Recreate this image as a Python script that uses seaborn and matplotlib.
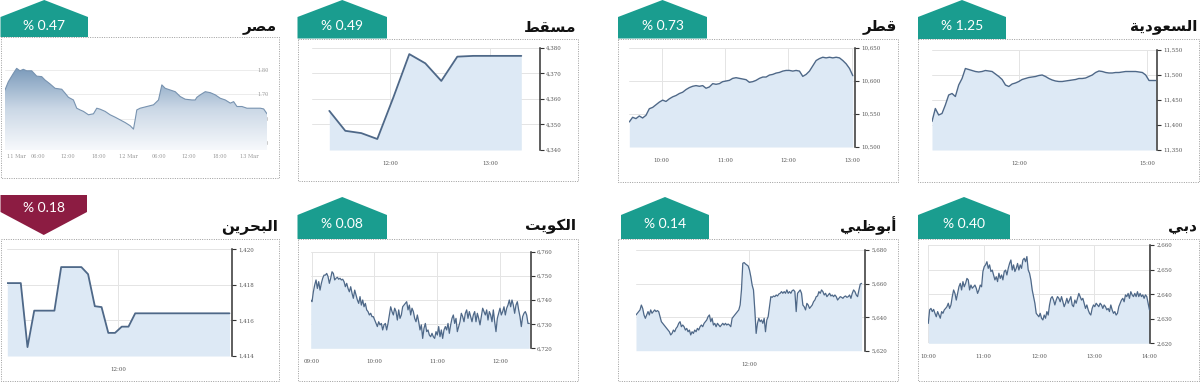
import numpy as np
import pandas as pd
import matplotlib
matplotlib.use("Agg")
import matplotlib.pyplot as plt
import seaborn as sns
from matplotlib.patches import Polygon, Rectangle
from matplotlib.ticker import FuncFormatter
from matplotlib.colors import LinearSegmentedColormap

# ----------------------------- data -----------------------------
markets = ["مصر", "مسقط", "قطر", "السعودية", "البحرين", "الكويت", "أبوظبي", "دبي"]
changes = ["% 0.47", "% 0.49", "% 0.73", "% 1.25", "% 0.18", "% 0.08", "% 0.14", "% 0.40"]
directions = ["up", "up", "up", "up", "down", "up", "up", "up"]

egypt_hours = [-0.46, 0.2, 1.19, 1.85, 2.51, 3.17, 3.83, 4.83, 5.82, 6.81, 7.47, 8.46, 9.45,
               10.78, 11.44, 12.10, 13.09, 13.75, 14.41, 15.07, 16.07, 17.06, 17.72, 18.38,
               19.37, 20.36, 21.36, 22.35, 23.34, 24.33, 24.99, 25.32, 25.65, 26.31, 27.64,
               28.96, 29.95, 30.61, 31.27, 32.26, 33.26, 34.25, 35.24, 36.56, 37.22, 37.55,
               38.21, 39.21, 40.20, 41.19, 42.18, 43.17, 44.17, 44.83, 45.49, 46.48, 47.47,
               48.79, 50.12, 50.78, 51.44]
egypt_values = [1.718, 1.752, 1.786, 1.807, 1.797, 1.803, 1.797, 1.797, 1.775, 1.773, 1.759,
                1.743, 1.725, 1.721, 1.705, 1.688, 1.677, 1.643, 1.636, 1.630, 1.616, 1.620,
                1.643, 1.639, 1.630, 1.616, 1.606, 1.595, 1.584, 1.571, 1.557, 1.595, 1.636,
                1.643, 1.650, 1.657, 1.677, 1.739, 1.725, 1.718, 1.711, 1.691, 1.680, 1.677,
                1.677, 1.688, 1.698, 1.711, 1.707, 1.698, 1.684, 1.677, 1.664, 1.670, 1.650,
                1.650, 1.643, 1.643, 1.643, 1.640, 1.620]
egypt_yticks = [1.50, 1.60, 1.70, 1.80]
egypt_ylabels = ["1.50", "1.60", "1.70", "1.80"]
egypt_xticks = [0, 6, 12, 18, 24, 30, 36, 42, 48]
egypt_xlabels = ["11 Mar", "06:00", "12:00", "18:00", "12 Mar", "06:00", "12:00", "18:00", "13 Mar"]

muscat_time = (11.393, 13.313)
muscat_values = [4355.3, 4347.5, 4346.6, 4344.3, 4360.5, 4377.5, 4373.9, 4367.0,
                 4376.5, 4376.8, 4376.8, 4376.8, 4376.8]
muscat_yticks = [4340, 4350, 4360, 4370, 4380]
muscat_xticks = [12, 13]
muscat_xlabels = ["12:00", "13:00"]

qatar_time = (9.489, 13.016)
qatar_values = [10538, 10545, 10543, 10547, 10544, 10548, 10558, 10560, 10564, 10568,
                10571, 10569, 10573, 10576, 10578, 10581, 10583, 10587, 10590, 10592,
                10593, 10592, 10593, 10589, 10591, 10596, 10595, 10596, 10599, 10600,
                10601, 10604, 10605, 10604, 10603, 10602, 10598, 10599, 10601, 10604,
                10606, 10606, 10609, 10610, 10612, 10613, 10615, 10616, 10616, 10615,
                10616, 10615, 10607, 10610, 10615, 10623, 10631, 10634, 10636, 10635,
                10636, 10635, 10636, 10635, 10631, 10626, 10619, 10608]
qatar_yticks = [10500, 10550, 10600, 10650]
qatar_xticks = [10, 11, 12, 13]
qatar_xlabels = ["10:00", "11:00", "12:00", "13:00"]

saudi_time = (9.97, 15.20)
saudi_values = [11407, 11433, 11420, 11423, 11440, 11460, 11463, 11457, 11480, 11493,
                11513, 11511, 11509, 11507, 11506, 11507, 11509, 11508, 11507, 11502,
                11497, 11491, 11480, 11477, 11482, 11484, 11487, 11491, 11493, 11495,
                11496, 11497, 11499, 11500, 11497, 11493, 11490, 11488, 11487, 11487,
                11488, 11489, 11490, 11491, 11493, 11493, 11494, 11497, 11500, 11505,
                11508, 11507, 11505, 11504, 11504, 11505, 11505, 11506, 11507, 11507,
                11507, 11507, 11506, 11505, 11500, 11489, 11489, 11489]
saudi_yticks = [11350, 11400, 11450, 11500, 11550]
saudi_xticks = [12, 15]
saudi_xlabels = ["12:00", "15:00"]

bahrain_time = (10.0, 14.0)
bahrain_values = [1418.1, 1418.1, 1418.1, 1414.5, 1416.55, 1416.55, 1416.55, 1416.55,
                  1419.0, 1419.0, 1419.0, 1419.0, 1418.6, 1416.8, 1416.75, 1415.3, 1415.3,
                  1415.65, 1415.65, 1416.4, 1416.4, 1416.4, 1416.4, 1416.4, 1416.4, 1416.4,
                  1416.4, 1416.4, 1416.4, 1416.4, 1416.4, 1416.4, 1416.4, 1416.4]
bahrain_yticks = [1414, 1416, 1418, 1420]
bahrain_xticks = [12]
bahrain_xlabels = ["12:00"]

kuwait_time = (8.984, 12.468)
kuwait_values = [6740.0, 6739.3, 6743.4, 6746.2, 6748.3, 6744.8, 6747.6, 6744.1, 6746.9, 6749.0,
                 6750.3, 6750.3, 6751.0, 6749.7, 6746.9, 6749.0, 6751.7, 6751.0, 6748.3, 6749.0,
                 6749.4, 6748.6, 6749.0, 6748.3, 6748.6, 6747.6, 6745.5, 6746.9, 6744.8, 6743.4,
                 6745.5, 6742.8, 6740.7, 6744.1, 6742.1, 6740.0, 6738.6, 6741.4, 6737.9, 6740.0,
                 6737.2, 6738.6, 6735.9, 6735.2, 6733.8, 6734.5, 6733.1, 6733.1, 6731.7, 6730.3,
                 6729.0, 6731.0, 6729.7, 6730.3, 6727.6, 6729.7, 6730.3, 6727.6, 6730.3, 6733.8,
                 6737.2, 6735.2, 6733.8, 6736.6, 6735.2, 6731.7, 6735.9, 6732.4, 6733.8, 6737.2,
                 6737.9, 6738.6, 6739.3, 6735.9, 6737.9, 6733.8, 6736.6, 6735.2, 6732.4, 6731.0,
                 6733.8, 6731.0, 6727.6, 6729.7, 6724.1, 6728.3, 6730.3, 6726.9, 6727.6, 6725.5,
                 6724.8, 6726.2, 6724.8, 6724.1, 6726.9, 6725.5, 6729.0, 6724.8, 6727.6, 6724.1,
                 6727.6, 6729.0, 6727.6, 6730.3, 6726.2, 6729.7, 6732.4, 6733.8, 6730.3, 6732.4,
                 6726.9, 6729.0, 6731.0, 6734.5, 6733.1, 6731.0, 6734.5, 6735.9, 6732.4, 6735.2,
                 6733.1, 6731.0, 6733.8, 6735.2, 6731.0, 6734.5, 6732.4, 6729.7, 6733.1, 6736.6,
                 6735.2, 6733.8, 6735.9, 6731.7, 6735.2, 6733.8, 6731.0, 6735.9, 6731.0, 6726.9,
                 6732.4, 6734.5, 6736.6, 6733.8, 6735.2, 6737.2, 6733.8, 6736.6, 6737.9, 6740.0,
                 6737.2, 6740.0, 6737.9, 6734.5, 6737.9, 6739.3, 6735.9, 6733.1, 6729.0, 6733.1,
                 6734.5, 6735.2, 6733.8, 6730.3, 6730.3]
kuwait_yticks = [6720, 6730, 6740, 6750, 6760]
kuwait_xticks = [9, 10, 11, 12]
kuwait_xlabels = ["09:00", "10:00", "11:00", "12:00"]

abudhabi_time = (10.0, 14.0)
abudhabi_values = [5641.3, 5642.3, 5643.3, 5644.3, 5647.2, 5645.2, 5641.3, 5639.3, 5641.3, 5643.3,
                   5641.3, 5644.3, 5642.3, 5643.3, 5644.3, 5643.3, 5643.9, 5643.3, 5640.3, 5637.3,
                   5636.3, 5635.3, 5634.3, 5633.3, 5632.3, 5631.3, 5629.4, 5630.3, 5632.3, 5631.3,
                   5633.3, 5634.3, 5636.3, 5637.3, 5634.3, 5635.3, 5634.3, 5632.3, 5633.3, 5631.3,
                   5632.3, 5629.4, 5631.3, 5630.3, 5632.3, 5631.3, 5633.3, 5632.3, 5634.3, 5635.3,
                   5634.3, 5636.3, 5637.3, 5638.3, 5640.3, 5641.3, 5637.3, 5639.3, 5635.3, 5636.3,
                   5634.3, 5636.3, 5635.3, 5634.3, 5635.3, 5636.3, 5635.3, 5636.3, 5635.3, 5635.9,
                   5635.3, 5634.3, 5639.3, 5640.3, 5641.3, 5642.3, 5643.3, 5644.3, 5647.2, 5656.2,
                   5672.1, 5672.5, 5671.7, 5671.1, 5670.5, 5668.1, 5664.1, 5659.1, 5656.2, 5644.3,
                   5630.3, 5636.3, 5639.3, 5637.3, 5638.3, 5636.3, 5639.3, 5631.3, 5638.3, 5640.3,
                   5646.2, 5652.2, 5651.8, 5652.6, 5652.2, 5653.2, 5652.6, 5653.8, 5654.2, 5655.2,
                   5654.2, 5655.2, 5654.2, 5656.2, 5654.2, 5655.2, 5654.2, 5655.8, 5656.2, 5655.2,
                   5643.3, 5654.2, 5655.2, 5656.2, 5654.2, 5647.2, 5646.2, 5644.3, 5648.2, 5647.2,
                   5645.2, 5646.2, 5647.2, 5649.2, 5650.2, 5652.2, 5652.6, 5655.2, 5654.2, 5656.2,
                   5655.2, 5653.2, 5654.2, 5652.2, 5653.2, 5654.2, 5652.6, 5653.2, 5652.2, 5653.2,
                   5652.2, 5650.2, 5651.2, 5652.2, 5651.8, 5651.2, 5652.2, 5652.6, 5651.8, 5652.2,
                   5653.2, 5651.2, 5654.2, 5656.2, 5655.2, 5653.2, 5652.2, 5656.2, 5659.7, 5660.1]
abudhabi_yticks = [5620, 5640, 5660, 5680]
abudhabi_xticks = [12]
abudhabi_xlabels = ["12:00"]

dubai_time = (10.0, 14.0)
dubai_values = [2628.1, 2633.6, 2634.2, 2632.9, 2633.8, 2632.2, 2630.8, 2632.9, 2631.5, 2630.2,
                2632.9, 2632.2, 2633.6, 2634.2, 2634.9, 2636.3, 2634.2, 2635.6, 2639.0, 2641.7,
                2640.3, 2637.6, 2640.3, 2643.0, 2644.4, 2641.7, 2645.1, 2643.0, 2644.4, 2646.4,
                2645.8, 2641.7, 2643.7, 2642.4, 2643.0, 2643.7, 2642.4, 2640.3, 2641.7, 2643.7,
                2643.0, 2649.2, 2651.2, 2651.9, 2653.2, 2650.5, 2651.9, 2649.2, 2649.8, 2647.8,
                2645.8, 2647.1, 2645.1, 2648.5, 2646.4, 2647.8, 2645.8, 2649.2, 2649.8, 2647.8,
                2650.5, 2652.5, 2653.9, 2649.8, 2651.9, 2649.2, 2650.5, 2652.5, 2649.8, 2651.9,
                2650.5, 2653.9, 2654.6, 2653.2, 2655.3, 2649.8, 2648.5, 2645.8, 2641.7, 2639.0,
                2636.3, 2632.2, 2631.5, 2630.8, 2632.2, 2630.2, 2629.5, 2631.5, 2630.2, 2632.9,
                2631.5, 2635.6, 2638.3, 2639.0, 2637.6, 2635.6, 2637.6, 2639.0, 2638.3, 2636.9,
                2639.0, 2636.9, 2634.9, 2636.3, 2638.3, 2636.3, 2637.6, 2639.0, 2635.6, 2634.9,
                2637.6, 2636.3, 2638.3, 2640.3, 2639.0, 2637.6, 2638.3, 2636.3, 2634.2, 2635.6,
                2633.6, 2632.2, 2631.5, 2634.2, 2635.6, 2634.9, 2636.3, 2635.6, 2634.9, 2636.3,
                2635.6, 2634.2, 2635.6, 2634.9, 2633.6, 2634.2, 2632.9, 2635.6, 2633.6, 2632.2,
                2632.9, 2631.5, 2632.2, 2634.9, 2636.3, 2637.6, 2638.3, 2636.9, 2639.7, 2639.0,
                2640.3, 2638.3, 2641.0, 2639.7, 2639.0, 2640.3, 2639.0, 2641.0, 2639.0, 2640.3,
                2639.0, 2639.7, 2638.3, 2639.7, 2639.0, 2636.3, 2633.6]
dubai_yticks = [2620, 2630, 2640, 2650, 2660]
dubai_xticks = [10, 11, 12, 13, 14]
dubai_xlabels = ["10:00", "11:00", "12:00", "13:00", "14:00"]

# ----------------------------- style -----------------------------
sns.set_theme(style="white")
plt.rcParams["font.family"] = ["DejaVu Sans"]

TEAL = "#1a9d8f"
MAROON = "#8c1c42"
LINE = "#4e6888"
FILL = "#dde9f5"
GRID = "#e4e4e4"
W, H = 1200, 382

# Arabic contextual forms (isolated, final, initial, medial)
FORMS = {
    "ا": ("\uFE8D", "\uFE8E", None, None), "أ": ("\uFE83", "\uFE84", None, None),
    "ب": ("\uFE8F", "\uFE90", "\uFE91", "\uFE92"), "ة": ("\uFE93", "\uFE94", None, None),
    "ت": ("\uFE95", "\uFE96", "\uFE97", "\uFE98"), "ح": ("\uFEA1", "\uFEA2", "\uFEA3", "\uFEA4"),
    "د": ("\uFEA9", "\uFEAA", None, None), "ر": ("\uFEAD", "\uFEAE", None, None),
    "س": ("\uFEB1", "\uFEB2", "\uFEB3", "\uFEB4"), "ص": ("\uFEB9", "\uFEBA", "\uFEBB", "\uFEBC"),
    "ط": ("\uFEC1", "\uFEC2", "\uFEC3", "\uFEC4"), "ظ": ("\uFEC5", "\uFEC6", "\uFEC7", "\uFEC8"),
    "ع": ("\uFEC9", "\uFECA", "\uFECB", "\uFECC"), "ق": ("\uFED5", "\uFED6", "\uFED7", "\uFED8"),
    "ك": ("\uFED9", "\uFEDA", "\uFEDB", "\uFEDC"), "ل": ("\uFEDD", "\uFEDE", "\uFEDF", "\uFEE0"),
    "م": ("\uFEE1", "\uFEE2", "\uFEE3", "\uFEE4"), "ن": ("\uFEE5", "\uFEE6", "\uFEE7", "\uFEE8"),
    "و": ("\uFEED", "\uFEEE", None, None), "ي": ("\uFEF1", "\uFEF2", "\uFEF3", "\uFEF4"),
}


def shape_ar(word):
    out = []
    for i, c in enumerate(word):
        f = FORMS.get(c)
        if f is None:
            out.append(c)
            continue
        prev = word[i - 1] if i > 0 else None
        nxt = word[i + 1] if i < len(word) - 1 else None
        jp = prev in FORMS and FORMS[prev][2] is not None
        jn = nxt in FORMS and f[2] is not None
        if jp and jn:
            out.append(f[3])
        elif jp:
            out.append(f[1])
        elif jn:
            out.append(f[2])
        else:
            out.append(f[0])
    return "".join(reversed(out))


fig = plt.figure(figsize=(12, 3.82), dpi=100)
bg = fig.add_axes([0, 0, 1, 1], zorder=0)
bg.set_xlim(0, W)
bg.set_ylim(H, 0)
bg.axis("off")


def px_axes(x0, y0, x1, y1):
    ax = fig.add_axes([x0 / W, 1 - y1 / H, (x1 - x0) / W, (y1 - y0) / H], zorder=2)
    ax.set_facecolor("none")
    return ax


# boxes (x0, y0, x1, y1), badges (x0, x1), titles
boxes = [(0.5, 37, 278.5, 178), (297.5, 38.5, 577.5, 181), (617.5, 38.5, 898, 181.5),
         (917.5, 39, 1198.5, 181.5), (0.5, 239, 279, 380.5), (297.5, 239, 577.5, 380.5),
         (617.5, 239, 898, 380.5), (917.5, 239, 1198.5, 380.5)]
badge_x = [(0.5, 88), (297.5, 387), (618, 707), (918, 1006),
           (0.5, 87), (297.5, 387), (621, 709), (918, 1010)]

for i in range(8):
    x0, y0, x1, y1 = boxes[i]
    bg.add_patch(Rectangle((x0, y0), x1 - x0, y1 - y0, fill=False, ec="#9c9c9c",
                           lw=0.7, ls=(0, (1, 1.4))))
    bx0, bx1 = badge_x[i]
    xc = (bx0 + bx1) / 2
    if directions[i] == "up":
        ya, ys, yb = (0, 17, y0) if i < 4 else (197, 215, y0)
        pts = [(bx0, yb), (bx0, ys), (xc, ya), (bx1, ys), (bx1, yb)]
        col = TEAL
        ty = 26 if i < 4 else 224
    else:
        pts = [(bx0, 195), (bx1, 195), (bx1, 212), (xc, 235), (bx0, 212)]
        col = MAROON
        ty = 208
    bg.add_patch(Polygon(pts, closed=True, fc=col, ec="none"))
    bg.text(xc, ty, changes[i], color="white", fontsize=10, ha="center", va="center",
            family=["Lato", "DejaVu Sans"])
    title_y = 27 if i < 4 else 226
    bg.text(x1 - 1.5, title_y, shape_ar(markets[i]), ha="right", va="center",
            fontsize=11, fontweight="bold", color="#111111", family=["DejaVu Sans"])

comma = FuncFormatter(lambda v, p: f"{v:,.0f}")


def std_panel(rect, time, values, xlim, yticks, xticks, xlabels, lw=1.0):
    ax = px_axes(*rect)
    t = np.linspace(time[0], time[1], len(values))
    df = pd.DataFrame({"t": t, "v": values})
    ax.fill_between(df["t"], df["v"], yticks[0], color=FILL, lw=0, zorder=1)
    sns.lineplot(data=df, x="t", y="v", ax=ax, color=LINE, lw=lw, zorder=3)
    ax.set_xlim(*xlim)
    ax.set_ylim(yticks[0], yticks[-1])
    ax.set_yticks(yticks)
    ax.yaxis.set_major_formatter(comma)
    ax.yaxis.tick_right()
    ax.set_xticks(xticks)
    ax.set_xticklabels(xlabels)
    for s in ["top", "left", "bottom"]:
        ax.spines[s].set_visible(False)
    ax.spines["right"].set_color("#333333")
    ax.spines["right"].set_linewidth(1.1)
    ax.tick_params(axis="y", length=3, width=0.8, color="#333333", pad=1.5,
                   labelsize=4, labelcolor="#555555")
    ax.tick_params(axis="x", length=0, pad=8, labelsize=4, labelcolor="#555555")
    for lab in ax.get_xticklabels() + ax.get_yticklabels():
        lab.set_family(["DejaVu Serif"])
    ax.grid(True, color=GRID, lw=0.7)
    ax.set_axisbelow(True)
    ax.set_xlabel("")
    ax.set_ylabel("")
    return ax


std_panel((311.7, 47.7, 540, 150), muscat_time, muscat_values, (11.217, 13.5),
          muscat_yticks, muscat_xticks, muscat_xlabels, lw=1.3)
std_panel((629.3, 48, 855, 147), qatar_time, qatar_values, (9.489, 13.05),
          qatar_yticks, qatar_xticks, qatar_xlabels)
std_panel((932, 50, 1157, 150), saudi_time, saudi_values, (9.97, 15.23),
          saudi_yticks, saudi_xticks, saudi_xlabels)
std_panel((7.3, 249.3, 231.7, 356), bahrain_time, bahrain_values, (10.0, 14.04),
          bahrain_yticks, bahrain_xticks, bahrain_xlabels, lw=1.3)
std_panel((310.7, 251.7, 530.7, 348.3), kuwait_time, kuwait_values, (8.984, 12.49),
          kuwait_yticks, kuwait_xticks, kuwait_xlabels, lw=0.9)
std_panel((636, 250, 865, 350.7), abudhabi_time, abudhabi_values, (10.0, 14.06),
          abudhabi_yticks, abudhabi_xticks, abudhabi_xlabels, lw=0.9)
std_panel((928.3, 245, 1150, 343.3), dubai_time, dubai_values, (10.0, 14.01),
          dubai_yticks, dubai_xticks, dubai_xlabels, lw=0.9)

# Egypt panel: gradient area, labels inside
ax = px_axes(5, 55, 267, 150)
edf = pd.DataFrame({"t": egypt_hours, "v": egypt_values})
ylo, yhi = 1.471, 1.862
poly = ax.fill_between(edf["t"], edf["v"], ylo, color="none", lw=0)
cmap = LinearSegmentedColormap.from_list("eg", ["#f7f9fc", "#cbd8e6", "#7b9bbb"])
grad = np.linspace(0, 1, 256).reshape(-1, 1)
im = ax.imshow(grad, extent=[edf["t"].min(), edf["t"].max(), ylo, max(egypt_values)],
               aspect="auto", cmap=cmap, origin="lower", zorder=1)
im.set_clip_path(poly.get_paths()[0], transform=ax.transData)
sns.lineplot(data=edf, x="t", y="v", ax=ax, color="#7893b0", lw=0.8, zorder=3)
ax.set_xlim(min(egypt_hours), max(egypt_hours))
ax.set_ylim(ylo, yhi)
ax.set_yticks(egypt_yticks)
ax.set_yticklabels(egypt_ylabels)
ax.yaxis.tick_right()
ax.set_xticks(egypt_xticks)
ax.set_xticklabels(egypt_xlabels)
for s in ax.spines.values():
    s.set_visible(False)
ax.tick_params(axis="y", length=0, pad=-7, labelsize=3.6, labelcolor="#9a9a9a")
ax.tick_params(axis="x", length=0, pad=3, labelsize=3.6, labelcolor="#9a9a9a")
for lab in ax.get_xticklabels() + ax.get_yticklabels():
    lab.set_family(["DejaVu Serif"])
    lab.set_zorder(5)
ax.get_xticklabels()[0].set_horizontalalignment("left")
ax.grid(axis="y", color="#ececec", lw=0.7)
ax.grid(axis="x", visible=False)
ax.set_axisbelow(True)
ax.set_xlabel("")
ax.set_ylabel("")

fig.savefig("out.png", dpi=100)
